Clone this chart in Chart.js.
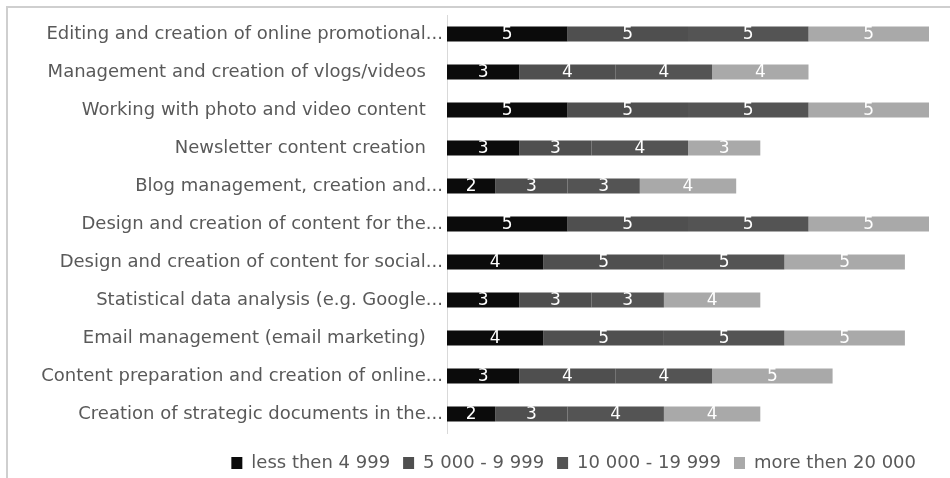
<!DOCTYPE html>
<html>
<head>
<meta charset="utf-8">
<script src="https://cdn.jsdelivr.net/npm/chart.js@4.4.1/dist/chart.umd.min.js"></script>
<style>
  html, body { margin: 0; padding: 0; background: #fff; }
  #wrap { position: relative; width: 950px; height: 478px; overflow: hidden; }
  #frame { position: absolute; left: 6px; top: 6px; width: 980px; height: 500px;
           border-top: 2px solid #cfcfcf; border-left: 2px solid #cfcfcf; }
  canvas { position: absolute; left: 0; top: 0; }
</style>
</head>
<body>
<div id="wrap">
  <div id="frame"></div>
  <canvas id="chart" width="950" height="478"></canvas>
</div>
<script>
const categories = [
    'Editing and creation of online promotional...',
    'Management and creation of vlogs/videos   ',
    'Working with photo and video content   ',
    'Newsletter content creation   ',
    'Blog management, creation and...',
    'Design and creation of content for the...',
    'Design and creation of content for social...',
    'Statistical data analysis (e.g. Google...',
    'Email management (email marketing)   ',
    'Content preparation and creation of online...',
    'Creation of strategic documents in the...'
];

const seriesNames = ['less then 4 999', '5 000 - 9 999', '10 000 - 19 999', 'more then 20 000'];
const seriesColors = ['#0b0b0b', '#4f4f4f', '#545454', '#a9a9a9'];

const lessThen5k = [5, 3, 5, 3, 2, 5, 4, 3, 4, 3, 2];
const from5kTo10k = [5, 4, 5, 3, 3, 5, 5, 3, 5, 4, 3];
const from10kTo20k = [5, 4, 5, 4, 3, 5, 5, 3, 5, 4, 4];
const moreThen20k = [5, 4, 5, 3, 4, 5, 5, 4, 5, 5, 4];

const seriesValues = [lessThen5k, from5kTo10k, from10kTo20k, moreThen20k];

const FONT = '"DejaVu Sans", sans-serif';

// white value labels in the middle of each segment
const segmentLabels = {
    id: 'segmentLabels',
    afterDatasetsDraw(chart) {
        const ctx = chart.ctx;
        ctx.save();
        ctx.fillStyle = '#ffffff';
        ctx.font = '17px ' + FONT;
        ctx.textAlign = 'center';
        ctx.textBaseline = 'middle';
        chart.data.datasets.forEach((ds, i) => {
            const meta = chart.getDatasetMeta(i);
            meta.data.forEach((bar, j) => {
                const cx = (bar.x + bar.base) / 2;
                ctx.fillText(ds.data[j], cx, bar.y + 1);
            });
        });
        ctx.restore();
    }
};

// push the legend a bit lower, like the original
const legendShift = {
    id: 'legendShift',
    afterLayout(chart) {
        chart.legend.top += 8;
        chart.legend.bottom += 8;
    }
};

const datasets = seriesNames.map((name, i) => ({
    label: name,
    data: seriesValues[i],
    backgroundColor: seriesColors[i],
    borderWidth: 0,
    barPercentage: 0.4,
    categoryPercentage: 1.0
}));

const chart = new Chart(document.getElementById('chart').getContext('2d'), {
    type: 'bar',
    data: { labels: categories, datasets: datasets },
    options: {
        indexAxis: 'y',
        responsive: false,
        animation: false,
        layout: { padding: { top: 15, right: 21, bottom: 4, left: 0 } },
        scales: {
            x: {
                stacked: true,
                min: 0,
                max: 20,
                display: false
            },
            y: {
                stacked: true,
                grid: { display: false, drawTicks: false },
                border: { display: true, color: '#d9d9d9', width: 1 },
                ticks: {
                    color: '#595959',
                    font: { family: FONT, size: 18 },
                    padding: 4,
                    autoSkip: false
                },
                afterFit(scale) {
                    scale.width = 447;
                }
            }
        },
        plugins: {
            legend: {
                position: 'bottom',
                align: 'end',
                labels: {
                    color: '#595959',
                    font: { family: FONT, size: 18 },
                    boxWidth: 11,
                    boxHeight: 12,
                    padding: 13
                }
            },
            tooltip: { enabled: false }
        }
    },
    plugins: [segmentLabels, legendShift]
});
</script>
</body>
</html>
